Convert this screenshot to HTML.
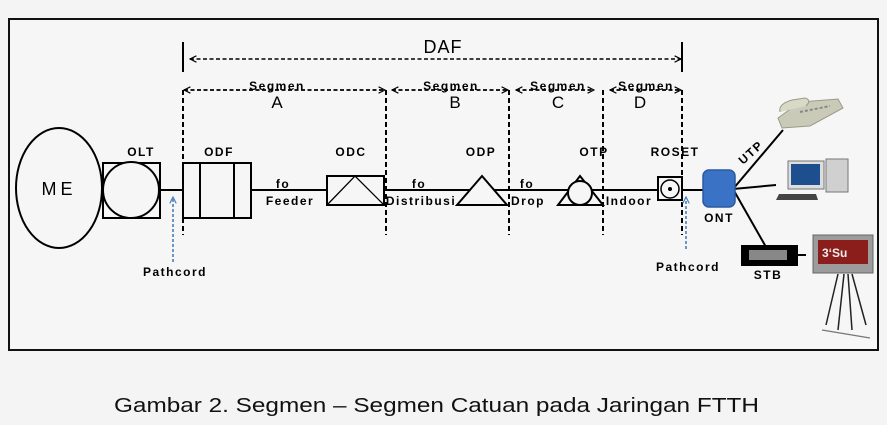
<!DOCTYPE html>
<html><head><meta charset="utf-8"><style>
html,body{margin:0;padding:0;background:#f4f4f4;}
svg{display:block;}
text{font-family:"Liberation Sans",Arial,sans-serif;}
.b{font-weight:bold;font-size:12px;letter-spacing:1.5px;}
</style></head><body>
<svg width="887" height="425" viewBox="0 0 887 425" xmlns="http://www.w3.org/2000/svg">
<defs>
<marker id="ar" viewBox="0 0 10 10" refX="9" refY="5" markerWidth="8" markerHeight="8" orient="auto-start-reverse" markerUnits="userSpaceOnUse"><path d="M1,1 L9,5 L1,9" fill="none" stroke="#000" stroke-width="1.5"/></marker>
<marker id="ab" viewBox="0 0 10 10" refX="9" refY="5" markerWidth="8" markerHeight="8" orient="auto" markerUnits="userSpaceOnUse"><path d="M1,1 L9,5 L1,9" fill="none" stroke="#4a7fc0" stroke-width="1.5"/></marker>
</defs>
<rect x="0" y="0" width="887" height="425" fill="#f4f4f4"/>
<rect x="9" y="19" width="869" height="331" fill="#f6f6f6" stroke="#111" stroke-width="2"/>

<!-- DAF -->
<line x1="183" y1="42" x2="183" y2="72" stroke="#000" stroke-width="2"/>
<line x1="682" y1="42" x2="682" y2="72" stroke="#000" stroke-width="2"/>
<line x1="190" y1="59" x2="681" y2="59" stroke="#000" stroke-width="1.5" stroke-dasharray="4,2.5" marker-start="url(#ar)" marker-end="url(#ar)"/>
<text x="443" y="53" font-size="18" text-anchor="middle" letter-spacing="1">DAF</text>

<!-- segment arrows -->
<g stroke="#000" stroke-width="1.8" stroke-dasharray="4,2.5">
<line x1="184" y1="90" x2="385" y2="90" marker-start="url(#ar)" marker-end="url(#ar)"/>
<line x1="392" y1="90" x2="508" y2="90" marker-start="url(#ar)" marker-end="url(#ar)"/>
<line x1="516" y1="90" x2="594" y2="90" marker-start="url(#ar)" marker-end="url(#ar)"/>
<line x1="610" y1="90" x2="681" y2="90" marker-start="url(#ar)" marker-end="url(#ar)"/>
</g>
<g class="b" text-anchor="middle">
<text x="277" y="90">Segmen</text><text x="451" y="90">Segmen</text>
<text x="558" y="90">Segmen</text><text x="646" y="90">Segmen</text>
</g>
<g font-size="17" text-anchor="middle">
<text x="277" y="108">A</text><text x="455" y="108">B</text>
<text x="558" y="108">C</text><text x="640" y="108">D</text>
</g>

<!-- vertical dashed lines -->
<g stroke="#000" stroke-width="2" stroke-dasharray="5,3">
<line x1="183" y1="90" x2="183" y2="235"/>
<line x1="386" y1="90" x2="386" y2="235"/>
<line x1="509" y1="90" x2="509" y2="235"/>
<line x1="603" y1="90" x2="603" y2="235"/>
<line x1="682" y1="90" x2="682" y2="235"/>
</g>

<!-- main line -->
<line x1="160" y1="190" x2="703" y2="190" stroke="#000" stroke-width="2"/>

<!-- ME -->
<ellipse cx="59" cy="188" rx="43" ry="60" fill="#f6f6f6" stroke="#000" stroke-width="2"/>
<text x="59" y="195" font-size="18" text-anchor="middle" letter-spacing="4">ME</text>

<!-- OLT -->
<rect x="103" y="163" width="57" height="55" fill="#f6f6f6" stroke="#000" stroke-width="2"/>
<circle cx="131" cy="190" r="28" fill="#f6f6f6" stroke="#000" stroke-width="2"/>
<text x="141" y="156" class="b" text-anchor="middle">OLT</text>

<!-- ODF -->
<rect x="183" y="163" width="68" height="55" fill="#f6f6f6" stroke="#000" stroke-width="2"/>
<line x1="200" y1="163" x2="200" y2="218" stroke="#000" stroke-width="2"/>
<line x1="234" y1="163" x2="234" y2="218" stroke="#000" stroke-width="2"/>
<text x="219" y="156" class="b" text-anchor="middle">ODF</text>

<text x="283" y="188" class="b" text-anchor="middle">fo</text>
<text x="290" y="205" class="b" text-anchor="middle">Feeder</text>

<!-- ODC -->
<rect x="327" y="176" width="57" height="29" fill="#f6f6f6" stroke="#000" stroke-width="2"/>
<path d="M327,205 L355,176 L384,205" fill="none" stroke="#000" stroke-width="1.3"/>
<text x="351" y="156" class="b" text-anchor="middle">ODC</text>

<text x="419" y="188" class="b" text-anchor="middle">fo</text>
<text x="421" y="205" class="b" text-anchor="middle" letter-spacing="1">Distribusi</text>

<!-- ODP -->
<path d="M457,205 L482,176 L507,205 Z" fill="#f6f6f6" stroke="#000" stroke-width="2"/>
<text x="481" y="156" class="b" text-anchor="middle">ODP</text>

<text x="527" y="188" class="b" text-anchor="middle">fo</text>
<text x="528" y="205" class="b" text-anchor="middle">Drop</text>

<!-- OTP -->
<path d="M558,205 L580,176 L603,205 Z" fill="#f6f6f6" stroke="#000" stroke-width="2"/>
<circle cx="580" cy="193" r="12" fill="#f6f6f6" stroke="#000" stroke-width="2"/>
<text x="594" y="156" class="b" text-anchor="middle">OTP</text>

<text x="629" y="205" class="b" text-anchor="middle">Indoor</text>

<!-- ROSET -->
<rect x="658" y="177" width="24" height="23" fill="#f6f6f6" stroke="#000" stroke-width="2"/>
<circle cx="670" cy="189" r="9" fill="#f6f6f6" stroke="#000" stroke-width="1.5"/>
<circle cx="670" cy="189" r="2" fill="#000"/>
<text x="675" y="156" class="b" text-anchor="middle">ROSET</text>

<!-- ONT connections -->
<g stroke="#000" stroke-width="2">
<line x1="733" y1="189" x2="783" y2="130"/>
<line x1="733" y1="189" x2="776" y2="185"/>
<line x1="733" y1="189" x2="766" y2="247"/>
<line x1="797" y1="255" x2="806" y2="255"/>
</g>
<rect x="703" y="170" width="32" height="37" rx="6" fill="#3a73c6" stroke="#2a5aa0" stroke-width="1.5"/>
<text x="719" y="222" class="b" text-anchor="middle">ONT</text>
<text x="0" y="0" class="b" transform="translate(743,165) rotate(-42)">UTP</text>

<!-- STB -->
<rect x="741" y="245" width="57" height="21" fill="#000"/>
<rect x="749" y="250" width="38" height="10" fill="#888"/>
<text x="768" y="279" class="b" text-anchor="middle">STB</text>

<!-- phone -->
<g>
<path d="M778,118 L800,102 L838,99 L843,108 L810,126 L782,128 Z" fill="#c9cbb8" stroke="#9a9c88"/>
<path d="M780,112 Q778,104 792,100 L805,98 Q812,100 806,106" fill="#d8d9c6" stroke="#9a9c88"/>
<line x1="800" y1="112" x2="830" y2="106" stroke="#888" stroke-width="2" stroke-dasharray="3,2"/>
</g>
<!-- PC -->
<g>
<rect x="788" y="161" width="36" height="28" fill="#ddd" stroke="#777"/>
<rect x="791" y="164" width="29" height="21" fill="#1d4f8e"/>
<rect x="826" y="159" width="22" height="33" fill="#d0d0d0" stroke="#777"/>
<path d="M779,194 L816,194 L818,200 L776,200 Z" fill="#444"/>
</g>
<!-- TV -->
<g>
<rect x="813" y="235" width="60" height="38" fill="#9c9c9c" stroke="#666"/>
<rect x="818" y="240" width="50" height="24" fill="#8b1d1a"/>
<text x="822" y="257" font-size="12" fill="#eee" font-weight="bold">3ʻSu</text>
<path d="M838,274 L826,325 M844,274 L838,330 M848,274 L852,330 M852,274 L866,325" stroke="#222" stroke-width="1.5" fill="none"/>
<path d="M822,330 L870,338" stroke="#777" stroke-width="1.2"/>
</g>

<!-- pathcords -->
<line x1="173" y1="262" x2="173" y2="197" stroke="#4a7fc0" stroke-width="1.6" stroke-dasharray="3,2" marker-end="url(#ab)"/>
<text x="175" y="276" class="b" text-anchor="middle" font-size="11">Pathcord</text>
<line x1="686" y1="249" x2="686" y2="197" stroke="#4a7fc0" stroke-width="1.6" stroke-dasharray="3,2" marker-end="url(#ab)"/>
<text x="688" y="271" class="b" text-anchor="middle" font-size="11">Pathcord</text>

<!-- caption -->
<text x="114" y="412" font-size="20" textLength="645" lengthAdjust="spacingAndGlyphs" fill="#111">Gambar 2. Segmen – Segmen Catuan pada Jaringan FTTH</text>
</svg>
</body></html>
